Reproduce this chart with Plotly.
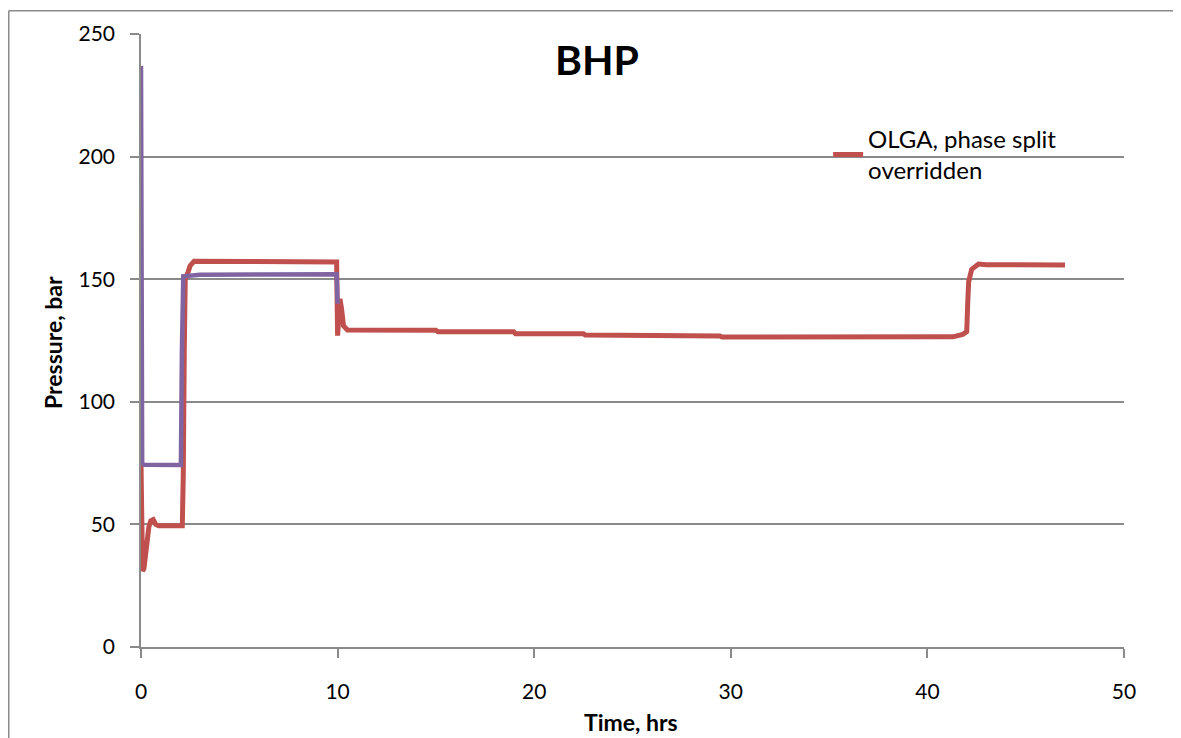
import plotly.graph_objects as go

# ---- data ----
red_name = "OLGA, phase split<br>overridden"
red_t = [0.0, 0.02, 0.08, 0.15, 0.25, 0.4, 0.5, 0.62, 0.75, 0.9, 2.1, 2.15, 2.2, 2.25, 2.4, 2.5, 2.7,
         5.0, 9.95, 10.0, 10.05, 10.12, 10.2, 10.3, 10.5, 15.0, 15.1, 18.95, 19.05, 22.5, 22.6,
         25.45, 25.55, 29.45, 29.55, 40.5, 40.9, 41.3, 41.8, 42.0, 42.05, 42.1, 42.25, 42.6, 43.0, 47.0]
red_p = [75, 45, 31, 32, 40, 49, 51.5, 52, 50, 49.4, 49.4, 70, 120, 150, 153, 155.5, 157.3,
         157.2, 157.0, 127, 135, 142, 138, 131, 129.3, 129.2, 128.6, 128.6, 127.8, 127.8, 127.2,
         127.2, 126.8, 126.8, 126.4, 126.4, 126.1, 126.5, 127.5, 128.6, 140, 149, 154, 156.2, 155.9, 155.8]

purple_t = [0.0, 0.03, 0.06, 0.15, 2.03, 2.08, 2.15, 3.0, 9.95, 10.0]
purple_p = [237, 120, 75, 74.3, 74.2, 120, 151.2, 151.8, 152.0, 140]

x_ticks = [0, 10, 20, 30, 40, 50]
y_ticks = [0, 50, 100, 150, 200, 250]

FONT = "Lato"
GRID = "#8a8a8a"
ML, MT, PW, PH = 133, 24, 983, 615

fig = go.Figure()
fig.add_trace(go.Scatter(x=red_t, y=red_p, mode="lines", name=red_name,
                         line=dict(color="#C0504D", width=5)))
fig.add_trace(go.Scatter(x=purple_t, y=purple_p, mode="lines", name="purple", showlegend=False,
                         line=dict(color="#8064A2", width=4.5)))

fig.update_layout(
    width=1181, height=738,
    margin=dict(l=ML, r=1181 - ML - PW, t=MT, b=738 - MT - PH),
    paper_bgcolor="white", plot_bgcolor="white",
    font=dict(family=FONT, size=21, color="black"),
    showlegend=True,
    legend=dict(x=0.699, y=0.865, xanchor="left", yanchor="top",
                bgcolor="rgba(0,0,0,0)", font=dict(size=24, family=FONT)),
    xaxis=dict(range=[0, 50], tickvals=x_ticks, showgrid=False, zeroline=False,
               showline=True, linecolor=GRID, linewidth=1.5,
               ticks="outside", ticklen=9, tickcolor=GRID, tickwidth=1.5,
               ticklabelstandoff=16),
    yaxis=dict(range=[0, 250], tickvals=y_ticks, showgrid=True, gridcolor=GRID, gridwidth=1.5,
               zeroline=False, showline=True, linecolor=GRID, linewidth=1.5,
               ticks="outside", ticklen=9, tickcolor=GRID, tickwidth=1.5,
               ticklabelstandoff=11),
    annotations=[
        dict(text="<b>BHP</b>", x=(597 - 8 - ML) / PW, y=1 - (58 - 8 - MT) / PH,
             xref="paper", yref="paper",
             xanchor="center", yanchor="middle", showarrow=False,
             font=dict(size=41, family=FONT)),
        dict(text="<b>Time, hrs</b>", x=(631 - 8 - ML) / PW, y=-(722 - 8 - MT - PH) / PH,
             xref="paper", yref="paper",
             xanchor="center", yanchor="middle", showarrow=False,
             font=dict(size=23, family=FONT)),
        dict(text="<b>Pressure, bar</b>", x=(53 - 8 - ML) / PW, y=1 - (342 - 8 - MT) / PH,
             xref="paper", yref="paper",
             xanchor="center", yanchor="middle", showarrow=False, textangle=-90,
             font=dict(size=23, family=FONT)),
    ],
    shapes=[
        dict(type="line", xref="paper", yref="paper", x0=(0.75 - ML) / PW, x1=1.2,
             y0=1 + (MT - 0.75) / PH, y1=1 + (MT - 0.75) / PH, line=dict(color=GRID, width=1.5)),
        dict(type="line", xref="paper", yref="paper", x0=(0.75 - ML) / PW, x1=(0.75 - ML) / PW,
             y0=1 + (MT - 0.75) / PH, y1=-0.3, line=dict(color=GRID, width=1.5)),
    ],
)

fig.write_html("out.html")
